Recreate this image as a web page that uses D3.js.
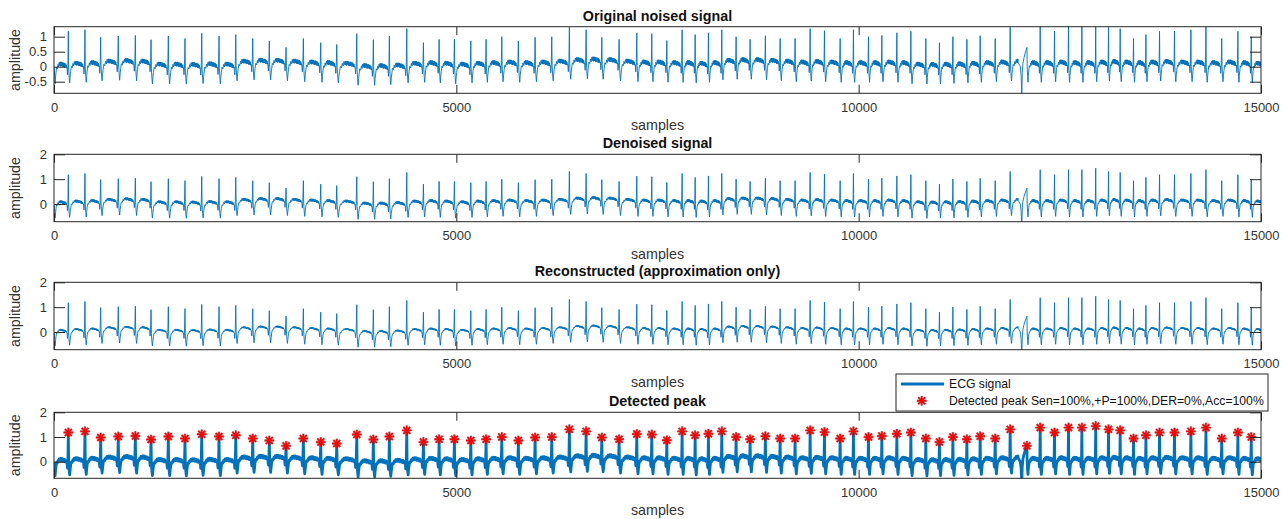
<!DOCTYPE html>
<html>
<head>
<script src="https://d3js.org/d3.v7.min.js"></script>
<style>
  body { margin: 0; background: #fff; font-family: "Liberation Sans", Arial, Helvetica, sans-serif; }
  svg { display: block; }
  .box { fill: none; stroke: #262626; stroke-width: 1; }
  .axis text { fill: #333; font-size: 13px; font-family: "Liberation Sans", Arial, sans-serif; }
  .axis line { stroke: #262626; }
  .axis path { display: none; }
  .ttl { font-size: 14.3px; font-weight: bold; fill: #111; }
  .lbl { font-size: 14.3px; fill: #333; }
  .leg { font-size: 12.2px; fill: #111; }
</style>
</head>
<body>
<svg id="chart" width="1288" height="519"></svg>
<script>
// detected R peaks: sample index and amplitude (read from the red stars)
const peakSamples = [178,385,580,799,1011,1206,1421,1628,1836,2051,2259,2470,2676,2884,3099,3315,3514,3763,3969,4168,
  4384,4591,4786,4976,5180,5370,5565,5771,5979,6186,6405,6613,6808,7023,7243,7429,7616,7806,7968,8133,
  8299,8477,8651,8841,9024,9210,9397,9575,9770,9935,10122,10288,10475,10649,10835,11004,11171,11345,11510,11697,
  11883,12091,12256,12434,12608,12774,12946,13105,13250,13416,13570,13739,13925,14129,14316,14512,14713,14879];
const peakAmps = [1.18,1.23,0.98,1.02,1.04,0.90,1.02,0.94,1.11,1.02,1.07,0.94,0.86,0.64,0.94,0.80,0.74,1.10,0.90,1.02,
  1.27,0.80,0.91,0.91,0.86,0.91,1.00,0.86,0.98,1.00,1.31,1.23,0.98,0.91,1.12,1.10,0.87,1.23,1.07,1.13,
  1.23,1.00,0.91,1.03,0.94,0.94,1.27,1.20,0.94,1.23,1.00,1.04,1.13,1.18,0.94,0.80,1.00,0.91,1.03,0.94,
  1.31,0.64,1.38,1.18,1.38,1.38,1.44,1.31,1.27,0.94,1.07,1.18,1.18,1.23,1.38,0.94,1.18,1.00];
// level of the flat part after each beat
const baseline = [0.08,0.10,0.15,0.17,0.15,0.05,0.05,0.04,0.06,0.05,0.15,0.18,0.18,0.15,0.12,0.10,0.08,0.00,0.00,0.02,
  0.08,0.10,0.08,0.05,0.08,0.10,0.12,0.10,0.12,0.15,0.20,0.22,0.20,0.15,0.12,0.12,0.10,0.10,0.08,0.10,
  0.18,0.20,0.20,0.18,0.15,0.12,0.14,0.12,0.10,0.10,0.10,0.12,0.10,0.05,0.04,0.05,0.06,0.08,0.10,0.12,
  0.15,0.10,0.10,0.12,0.10,0.10,0.12,0.14,0.12,0.10,0.12,0.14,0.12,0.12,0.10,0.12,0.10,0.08];
// partial beat at the left edge: sample, amplitude, level
const leadIn = [0, 0.0, 0.05];

// shape of one beat from its R peak to the next one (phase = fraction of RR interval)
const tplPhase = [0,0.02,0.05,0.08,0.11,0.14,0.18,0.23,0.28,0.32,0.36,
  0.40,0.42,0.44,0.46,0.48,0.50,0.52,0.54,0.56,0.58,0.60,0.62,0.64,0.66,0.68,0.70,0.72,0.74,0.76,0.78,0.80,0.82,0.84,0.86,0.88,
  0.91,0.94,0.97];
const tplShape = [0,-0.10,-0.45,-0.60,-0.42,-0.20,-0.12,-0.07,-0.03,0.00,0.02,
  0.03,0.03,0.04,0.04,0.04,0.04,0.04,0.03,0.03,0.03,0.02,0.02,0.02,0.01,0.01,0.00,0.00,0.00,-0.01,-0.01,-0.02,-0.02,-0.03,-0.04,-0.05,
  -0.10,-0.30,-0.08];
const tplNoise = [0,0,0.02,-0.02,0.03,-0.04,0.05,-0.05,0.06,-0.06,0.07,
  -0.05,0.08,-0.06,0.07,-0.08,0.06,-0.07,0.08,-0.05,0.07,-0.07,0.06,-0.08,0.07,-0.06,0.08,-0.05,0.06,-0.07,0.07,-0.06,0.05,-0.06,0.05,-0.05,
  0.03,-0.02,0.02];

// odd beat near sample 12000: offsets from its peak and values
const ectopicPeak = 12091;
const ectopicOffset = [-100,-82,-72,-64,-58,-50,-36,-22,-10];
const ectopicValue = [0.10,0.00,-0.30,-0.88,-0.20,0.10,0.30,0.45,0.55];

const xTicks = [0, 5000, 10000, 15000];
const titles = ["Original noised signal", "Denoised signal", "Reconstructed (approximation only)", "Detected peak"];
const yTicksList = [[-0.5, 0, 0.5, 1], [0, 1, 2], [0, 1, 2], [0, 1, 2]];
const yDomains = [[-0.887, 1.333], [-0.71, 2], [-0.71, 2], [-0.67, 2]];
const noiseLevel = [1, 0.75, 0.5, 0.6];
const legendLabels = ["ECG signal", "Detected peak Sen=100%,+P=100%,DER=0%,Acc=100%"];

const blue = "#0072bd";
const left = 54, right = 1261;
const tops = [26.7, 154.3, 282.3, 412.3];
const bottoms = [93.3, 221.7, 349.7, 478.3];

const svg = d3.select("#chart");
const x = d3.scaleLinear().domain([0, 15000]).range([left, right]);

function buildSignal(k) {
  const beats = [leadIn[0]].concat(peakSamples);
  const amps = [leadIn[1]].concat(peakAmps);
  const levels = [leadIn[2]].concat(baseline);
  const pts = [];
  for (let i = 0; i < beats.length; i++) {
    const s0 = beats[i];
    const rr = i < beats.length - 1 ? beats[i + 1] - s0 : s0 - beats[i - 1];
    const odd = beats[i + 1] === ectopicPeak;
    tplPhase.forEach((p, j) => {
      const s = s0 + p * rr;
      if (odd && s > ectopicPeak - 105) return;
      const v = j === 0 ? amps[i] : levels[i] + tplShape[j] + k * tplNoise[j];
      pts.push([s, v]);
    });
    if (odd) ectopicOffset.forEach((o, j) => pts.push([ectopicPeak + o, ectopicValue[j]]));
  }
  return pts.filter(d => d[0] <= 15050);
}

function star(g, cx, cy, r) {
  const a = r * 0.72;
  const d = `M${cx - r},${cy}H${cx + r}M${cx},${cy - r}V${cy + r}M${cx - a},${cy - a}L${cx + a},${cy + a}M${cx - a},${cy + a}L${cx + a},${cy - a}`;
  g.append("path").attr("d", d).attr("stroke", "#6b1010").attr("stroke-opacity", 0.5)
    .attr("stroke-width", 2.4).attr("fill", "none");
  g.append("path").attr("d", d).attr("stroke", "#f00").attr("stroke-width", 1.4).attr("fill", "none");
}

titles.forEach((t, pi) => {
  const top = tops[pi], bot = bottoms[pi];
  const y = d3.scaleLinear().domain(yDomains[pi]).range([bot, top]);
  const g = svg.append("g");

  g.append("clipPath").attr("id", "clip" + pi)
    .append("rect").attr("x", left).attr("y", top).attr("width", right - left).attr("height", bot - top);

  const sig = buildSignal(noiseLevel[pi]);
  const line = d3.line().x(d => x(d[0])).y(d => y(d[1]));
  g.append("path")
    .attr("clip-path", `url(#clip${pi})`)
    .attr("d", line(sig))
    .attr("fill", "none")
    .attr("stroke", blue)
    .attr("stroke-width", pi === 3 ? 2.8 : 0.9)
    .attr("stroke-linejoin", "round");

  if (pi === 3) {
    const mk = g.append("g");
    peakSamples.forEach((s, i) => star(mk, x(s), y(peakAmps[i]), 4.8));
  }

  // axes, ticks pointing inward
  g.append("g").attr("class", "axis").attr("transform", `translate(0,${bot})`)
    .call(d3.axisBottom(x).tickValues(xTicks).tickFormat(d3.format("d")).tickSizeInner(-8.5).tickSizeOuter(0).tickPadding(9));
  g.append("g").attr("class", "axis").attr("transform", `translate(0,${top})`)
    .call(d3.axisTop(x).tickValues(xTicks).tickFormat("").tickSizeInner(-8.5).tickSizeOuter(0));
  g.append("g").attr("class", "axis").attr("transform", `translate(${left},0)`)
    .call(d3.axisLeft(y).tickValues(yTicksList[pi]).tickFormat(d => d).tickSizeInner(-11).tickSizeOuter(0).tickPadding(7));
  g.append("g").attr("class", "axis").attr("transform", `translate(${right},0)`)
    .call(d3.axisRight(y).tickValues(yTicksList[pi]).tickFormat("").tickSizeInner(-11).tickSizeOuter(0));

  g.append("rect").attr("class", "box")
    .attr("x", left).attr("y", top).attr("width", right - left).attr("height", bot - top);

  const mid = (left + right) / 2;
  g.append("text").attr("class", "ttl").attr("x", mid).attr("y", top - 6).attr("text-anchor", "middle").text(t);
  g.append("text").attr("class", "lbl").attr("x", mid).attr("y", bot + 37).attr("text-anchor", "middle").text("samples");
  g.append("text").attr("class", "lbl").attr("text-anchor", "middle")
    .attr("transform", `translate(20,${(top + bot) / 2}) rotate(-90)`).text("amplitude");
});

// legend
const lg = svg.append("g");
lg.append("rect").attr("x", 896).attr("y", 374).attr("width", 372).attr("height", 37)
  .attr("fill", "#fff").attr("stroke", "#262626").attr("stroke-width", 1);
lg.append("line").attr("x1", 901).attr("x2", 944).attr("y1", 384).attr("y2", 384)
  .attr("stroke", blue).attr("stroke-width", 2.8);
star(lg, 921.7, 400.7, 4.8);
legendLabels.forEach((l, i) => {
  lg.append("text").attr("class", "leg").attr("x", 949).attr("y", 388.3 + i * 16.6).text(l);
});
</script>
</body>
</html>
